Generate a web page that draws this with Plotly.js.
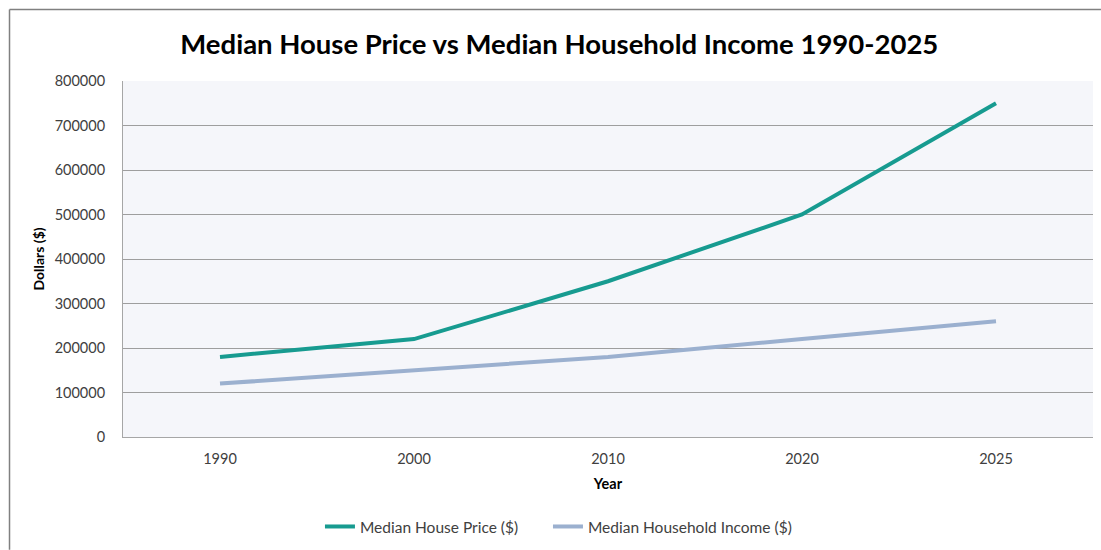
<!DOCTYPE html>
<html>
<head>
<meta charset="utf-8">
<script src="https://cdn.plot.ly/plotly-3.0.1.min.js"></script>
<style>
html,body{margin:0;padding:0;background:#fff;}
#chart{width:1101px;height:550px;}
</style>
</head>
<body>
<div id="chart"></div>
<script>
const years = ['1990', '2000', '2010', '2020', '2025'];
const housePrice = [180000, 220000, 350000, 500000, 750000];
const householdIncome = [120000, 150000, 180000, 220000, 260000];
const yTicks = [0, 100000, 200000, 300000, 400000, 500000, 600000, 700000, 800000];

const font = "Lato, Open Sans, sans-serif";

const traces = [
  {
    x: years, y: housePrice, type: 'scatter', mode: 'lines',
    name: 'Median House Price ($)',
    legend: 'legend',
    line: {color: '#179B90', width: 4}
  },
  {
    x: years, y: householdIncome, type: 'scatter', mode: 'lines',
    name: 'Median Household Income ($)',
    legend: 'legend2',
    line: {color: '#9BB0CF', width: 4}
  }
];

const legendStyle = {
  orientation: 'h',
  xref: 'container', yref: 'container',
  xanchor: 'left', yanchor: 'middle',
  y: 0.042,
  font: {family: font, size: 15.5, color: '#404040'},
  bgcolor: 'rgba(0,0,0,0)'
};

const layout = {
  width: 1101, height: 550,
  paper_bgcolor: '#ffffff',
  plot_bgcolor: '#F5F6FA',
  margin: {l: 123, r: 8, t: 81, b: 113},
  font: {family: font, size: 14, color: '#404040'},
  title: {
    text: '<b>Median House Price vs Median Household Income 1990-2025</b>',
    font: {family: font, size: 27.5, color: '#000000'},
    x: 0.508, xanchor: 'center', y: 0.92, yanchor: 'middle'
  },
  xaxis: {
    type: 'category',
    automargin: false,
    range: [-0.5, 4.5],
    showgrid: false,
    showline: true, linecolor: '#A6A6A6', linewidth: 1,
    ticks: '', ticklabelstandoff: 9,
    tickfont: {family: font, size: 14.5, color: '#404040'},
    title: {text: '<b>Year</b>', font: {family: font, size: 14.5, color: '#000'}, standoff: 12}
  },
  yaxis: {
    automargin: false,
    range: [0, 800000],
    tickvals: yTicks,
    ticktext: yTicks.map(String),
    showgrid: true, gridcolor: '#9E9E9E', gridwidth: 1,
    zeroline: false,
    showline: true, linecolor: '#A6A6A6', linewidth: 1,
    ticks: '', ticklabelstandoff: 14,
    tickfont: {family: font, size: 14.5, color: '#404040'},
    title: {text: '<b>Dollars ($)</b>', font: {family: font, size: 14, color: '#000'}, standoff: 6}
  },
  legend: Object.assign({}, legendStyle, {x: 0.2906}),
  legend2: Object.assign({}, legendStyle, {x: 0.4977}),
  shapes: [
    {type: 'line', xref: 'paper', yref: 'paper', x0: -0.117, x1: 1.0082, y0: 1.2008, y1: 1.2008,
     line: {color: '#808080', width: 1.5}},
    {type: 'line', xref: 'paper', yref: 'paper', x0: -0.117, x1: -0.117, y0: 1.2008, y1: -0.317,
     line: {color: '#808080', width: 1.5}}
  ],
  showlegend: true
};

Plotly.newPlot('chart', traces, layout, {displayModeBar: false, staticPlot: true});
</script>
</body>
</html>
